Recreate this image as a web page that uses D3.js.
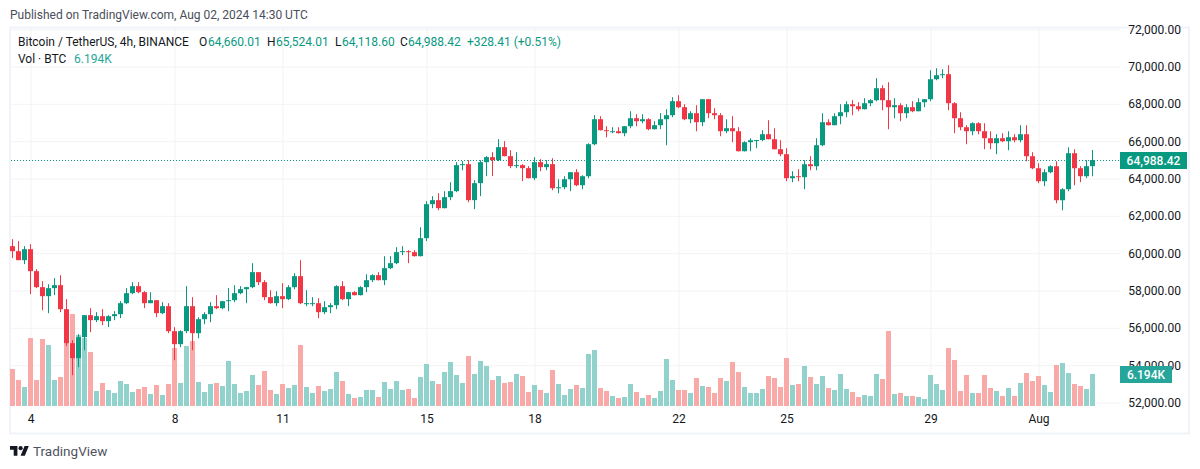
<!DOCTYPE html>
<html lang="en">
<head>
<meta charset="utf-8"/>
<script src="https://d3js.org/d3.v7.min.js"></script>
<style>
  body { margin: 0; background: #fff; }
  svg { display: block; }
  text { font-family: Roboto, "Noto Sans", sans-serif; font-size: 12px; }
</style>
</head>
<body>
<svg id="chart" width="1200" height="469"></svg>
<script>
// BTC/USDT 4h, values
var firstOpen = 60375;
var closes = [
  60107,59625,60214,59036,58178,57696,58125,58286,57000,55180,
  54375,55500,56680,56411,56625,56357,56625,56732,57321,57857,
  58232,57911,57321,57482,56785,57160,55821,55125,55821,57160,
  55714,56464,56732,57160,57053,57428,57482,57857,58071,58178,
  58982,58446,57643,57321,57696,57536,58178,58768,57321,57321,
  57321,56839,57107,57214,58232,57536,57911,57750,58178,58553,
  58821,58553,59196,59464,60054,60107,60054,59839,60804,62625,
  62840,62411,63000,63322,64715,64769,62840,63751,64876,65144,
  64983,65679,65197,64661,64715,64554,64018,64876,64608,64769,
  63479,63533,63962,64337,63640,64122,65837,67176,66587,66533,
  66533,66426,66801,67230,67069,67176,66640,66855,67176,67391,
  68141,67819,67176,67498,67016,68248,67498,67391,66533,66694,
  66533,65462,65944,66051,66060,66373,66105,65569,65301,64015,
  64122,64069,64765,64658,65783,67015,66854,67337,67551,67980,
  67872,67712,68033,68194,68837,68194,67819,67926,67497,67819,
  67604,68087,68247,69319,69533,69587,68033,67229,66747,66533,
  66961,66533,66158,65890,66158,65997,66211,66051,66372,65193,
  64550,63854,64336,64657,62836,63425,65354,64550,64122,64660.01,
  64988.42
];
var highs = [
  60750,60643,60375,60482,59143,58500,58339,58661,58821,57536,
  55340,55660,56680,57053,56839,57000,56678,56892,57428,58125,
  58446,58446,57964,57911,57482,57375,57321,56036,55875,58232,
  57643,56571,56839,57375,57750,57450,58125,58286,58232,58190,
  59464,58990,58553,58018,57964,58393,58285,58929,59625,58018,
  57643,57589,57428,57321,58285,58500,57925,57964,58232,58875,
  58875,58982,59839,59839,60321,60375,60161,60161,61393,62786,
  63054,63215,63322,63804,64876,64929,64983,63911,64983,65197,
  65412,66108,66001,65519,65412,64769,64661,65144,65036,64983,
  65087,63962,64122,64345,64497,64176,65890,67391,67337,66801,
  66748,66748,66810,67605,67444,67444,67230,67069,67498,67712,
  68355,68462,67980,67605,67926,68255,68255,67766,67498,67176,
  67337,66748,65998,66158,66065,66587,67123,66694,66051,65622,
  64390,64497,64980,65194,66158,67497,67176,67497,67980,68140,
  68194,68087,68301,68247,69373,68998,69158,68301,68033,67980,
  68140,68301,68255,69801,69908,69855,70069,68087,67551,66854,
  67015,67015,66961,66533,66372,66426,66533,66372,66854,66854,
  65408,64818,64497,64710,64925,63479,65675,65568,64657,64979,
  65524.01
];
var lows = [
  59732,59625,59411,57804,58125,56946,56785,57750,56839,55018,
  53465,53890,54800,55768,56303,56142,56036,56411,56518,57268,
  57804,57857,57053,57321,56571,56732,55714,54268,54964,55714,
  54800,55446,56196,56303,57000,57000,56892,57375,57804,57321,
  58125,58286,57482,57300,57160,57053,57482,58071,57268,57160,
  57160,56517,56732,56785,57000,57482,57160,57735,57735,57911,
  58446,58540,58285,59143,59411,59893,59464,59825,59825,60643,
  62411,62304,62400,62840,63268,64447,62733,62358,63054,64126,
  64126,64929,65185,64554,64554,63858,64005,63911,64394,64447,
  63372,63211,63426,63319,63587,63426,64015,65780,66575,66212,
  66426,66415,66265,66694,66801,66962,66587,66630,66640,65783,
  67283,67766,67123,66962,66533,66801,67230,67176,66265,66426,
  65944,65450,65450,65462,65622,65998,66095,65555,65194,63855,
  63801,63855,63426,64444,64444,65729,66850,66854,66908,67283,
  67390,67604,67700,67872,68140,67658,66640,67229,67069,67229,
  67551,67595,67819,68140,69265,69373,67658,66426,66586,65836,
  66319,66372,65568,65568,65300,65943,65515,65943,65943,64925,
  64497,63747,63586,64283,62675,62300,63318,63640,63800,64015,
  64118.60
];
var volumes = [
  7160,5031,3677,13158,5031,12965,11804,5031,5612,12191,
  17802,13739,13158,10449,2903,4451,3096,2516,4838,4257,
  2709,3290,3677,2322,4064,2129,4257,11223,4451,11610,
  12578,4644,2709,4257,4451,3870,8708,4257,2516,2903,
  5999,4064,6773,3096,2322,4257,3483,4064,11804,3677,
  2516,3870,2903,3290,6579,4838,2322,1548,1742,3096,
  3096,1742,4644,3290,4838,3096,3290,1548,5612,8127,
  4838,4257,6579,8514,5999,4451,9675,6192,8708,7740,
  5031,5805,4451,4644,6192,5805,2709,4064,3096,2516,
  6966,4257,2129,3290,4064,3483,10062,10836,3483,2903,
  1935,1548,1742,4257,2709,1548,2129,1548,2903,9095,
  5031,3096,3096,2516,5418,3870,3677,2516,5418,4838,
  8514,6579,3677,2516,2516,3290,5805,5418,3677,9288,
  4064,4257,7740,5612,4257,5805,3483,3096,6192,3290,
  2709,1742,2129,1935,6192,5225,14513,2322,2516,1935,
  1935,1742,1355,5999,4257,3096,11223,8901,2903,5999,
  2516,2516,5999,3483,2903,1935,3483,1935,4451,6386,
  4838,5805,4064,2709,7934,8321,6386,4257,3870,3290,
  6194
];
var opens = closes.map(function(c, i) { return i === 0 ? firstOpen : closes[i - 1]; });

var priceTicks = [52000,54000,56000,58000,60000,62000,64000,66000,68000,70000,72000];
var dayIndex = [3,27,45,69,87,111,129,153,171];
var dayLabels = ['4','8','11','15','18','22','25','29','Aug'];

var UP = '#089981', DOWN = '#f23645';
var PLOT_RIGHT = 1120, PLOT_BOTTOM = 412, PLOT_TOP = 28, PLOT_LEFT = 11;

var svg = d3.select('#chart');

var x = d3.scaleLinear().domain([0, closes.length - 1]).range([12.5, 1092.5]);
var y = d3.scaleLinear().domain([52000, 70000]).range([402.5, 66.5]);
var yVol = d3.scaleLinear().domain([0, 18000]).range([406, 313]);

// frame
svg.append('rect')
  .attr('x', 10).attr('y', 27.5).attr('width', 1179).attr('height', 406)
  .attr('fill', 'none').attr('stroke', '#f0f3fa').attr('stroke-width', 2);

// grid
var gridX = d3.axisBottom(x).tickValues(dayIndex).tickSize(PLOT_BOTTOM - PLOT_TOP).tickFormat('');
svg.append('g').attr('transform', 'translate(0,' + PLOT_TOP + ')').call(gridX)
  .call(function(g) {
    g.select('.domain').remove();
    g.selectAll('line').attr('stroke', '#f3f3f5');
  });
var gridY = d3.axisRight(y).tickValues(priceTicks).tickSize(PLOT_RIGHT - PLOT_LEFT).tickFormat('');
svg.append('g').attr('transform', 'translate(' + PLOT_LEFT + ',0)').call(gridY)
  .call(function(g) {
    g.select('.domain').remove();
    g.selectAll('line').attr('stroke', '#f3f3f5');
  });

// volume
svg.append('g').selectAll('rect')
  .data(volumes)
  .enter().append('rect')
  .attr('x', function(d, i) { return x(i) - 2.5; })
  .attr('width', 5)
  .attr('y', function(d) { return yVol(d); })
  .attr('height', function(d) { return yVol(0) - yVol(d); })
  .attr('fill', function(d, i) { return closes[i] >= opens[i] ? '#92d2cc' : '#f9a9a8'; });

// last price line
var lastClose = closes[closes.length - 1];
svg.append('line')
  .attr('x1', PLOT_LEFT).attr('x2', PLOT_RIGHT)
  .attr('y1', Math.round(y(lastClose)) + 0.5).attr('y2', Math.round(y(lastClose)) + 0.5)
  .attr('stroke', UP).attr('stroke-dasharray', '1 2');

// candles
var candle = svg.append('g').selectAll('g')
  .data(closes)
  .enter().append('g')
  .attr('fill', function(d, i) { return d >= opens[i] ? UP : DOWN; });
candle.append('rect')
  .attr('x', function(d, i) { return x(i) - 0.5; })
  .attr('width', 1)
  .attr('y', function(d, i) { return y(highs[i]); })
  .attr('height', function(d, i) { return y(lows[i]) - y(highs[i]); });
candle.append('rect')
  .attr('x', function(d, i) { return x(i) - 2.5; })
  .attr('width', 5)
  .attr('y', function(d, i) { return y(Math.max(d, opens[i])); })
  .attr('height', function(d, i) { return Math.max(1, Math.abs(y(d) - y(opens[i]))); });

// price axis
var axisY = d3.axisRight(y).tickValues(priceTicks).tickSize(0).tickPadding(0).tickFormat(d3.format(',.2f'));
svg.append('g').attr('transform', 'translate(1181,0)').call(axisY)
  .call(function(g) {
    g.select('.domain').remove();
    g.selectAll('text').attr('text-anchor', 'end').attr('fill', '#131722').style('font-size', '12px');
  });

// time axis
var axisX = d3.axisBottom(x).tickValues(dayIndex).tickSize(0).tickPadding(0)
  .tickFormat(function(d) { return dayLabels[dayIndex.indexOf(d)]; });
svg.append('g').attr('transform', 'translate(0,414)').call(axisX)
  .call(function(g) {
    g.select('.domain').remove();
    g.selectAll('text').attr('fill', '#131722').style('font-size', '12px');
  });

// last value labels
function label(text, x0, w, cy, color) {
  svg.append('rect').attr('x', x0).attr('y', cy - 8.5).attr('width', w).attr('height', 17).attr('fill', color);
  svg.append('text').attr('x', x0 + w / 2).attr('y', cy + 4.5)
    .attr('text-anchor', 'middle').attr('fill', '#fff').style('font-weight', 500).text(text);
}
label(d3.format(',.2f')(lastClose), 1120, 67, 160.5, UP);
label('6.194K', 1120, 52, 374.5, '#26a69a');

// header and legend
svg.append('text').attr('x', 10).attr('y', 19).attr('fill', '#4a4e5a')
  .text('Published on TradingView.com, Aug 02, 2024 14:30 UTC');

function legend(items, yy) {
  items.forEach(function(it) {
    svg.append('text').attr('x', it[0]).attr('y', yy).attr('fill', it[2]).text(it[1]);
  });
}
var ink = '#131722';
legend([
  [18, 'Bitcoin / TetherUS, 4h, BINANCE', ink],
  [199, 'O', ink], [208, '64,660.01', UP],
  [267, 'H', ink], [276, '65,524.01', UP],
  [335, 'L', ink], [342, '64,118.60', UP],
  [400, 'C', ink], [408, '64,988.42', UP],
  [467, '+328.41 (+0.51%)', UP]
], 46);
legend([
  [18, 'Vol \u00b7 BTC', ink],
  [74, '6.194K', '#26a69a']
], 63);

// footer logo
var logo = svg.append('g').attr('transform', 'translate(10,444) scale(.53)').attr('fill', '#131722');
logo.append('path').attr('d', 'M14 22H7V11H0V4h14v18zM28 22h-8l7.5-18h8L28 22z');
logo.append('circle').attr('cx', 20).attr('cy', 8).attr('r', 4);
svg.append('text').attr('x', 33).attr('y', 456).attr('fill', '#50535e')
  .style('font-size', '13.5px').text('TradingView');
</script>
</body>
</html>
